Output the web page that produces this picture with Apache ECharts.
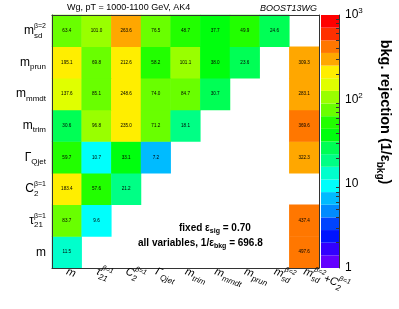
<!DOCTYPE html>
<html><head><meta charset="utf-8">
<script src="https://cdn.jsdelivr.net/npm/echarts@6/dist/echarts.min.js"></script>
<style>html,body{margin:0;padding:0;background:#fff}#c{width:399px;height:309px}</style>
</head><body><div id="c"></div>
<script>
// column variables (x) and row variables (y, bottom to top)
const xVars = ['m', 'tau21', 'C2', 'Gamma', 'mtrim', 'mmdt', 'mprun', 'msd', 'msdC2'];
const yVars = ['m', 'tau21', 'C2', 'Gamma', 'mtrim', 'mmdt', 'mprun', 'msd'];
// rows, values per column (null = empty cell)
const row_msd   = [63.4, 101.0, 263.6, 76.5, 48.7, 37.7, 49.9, 24.6, null];
const row_mprun = [195.1, 69.8, 212.6, 58.2, 101.1, 38.0, 23.6, null, 309.3];
const row_mmdt  = [137.6, 85.1, 248.6, 74.0, 84.7, 30.7, null, null, 283.1];
const row_mtrim = [30.6, 96.8, 235.0, 71.2, 18.1, null, null, null, 369.6];
const row_gamma = [59.7, 10.7, 33.1, 7.2, null, null, null, null, 322.3];
const row_c2    = [183.4, 57.6, 21.2, null, null, null, null, null, null];
const row_tau21 = [83.7, 9.6, null, null, null, null, null, null, 437.4];
const row_m     = [11.5, null, null, null, null, null, null, null, 497.6];
const rowsByVar = {m: row_m, tau21: row_tau21, C2: row_c2, Gamma: row_gamma,
  mtrim: row_mtrim, mmdt: row_mmdt, mprun: row_mprun, msd: row_msd};
// colour scale: log10 from 0 (=1) to 3 (=1000), 20 levels
const zLogMin = 0, zLogMax = 3;
const decadeLabels = ['1', '10', '10^2', '10^3'];
const minorTickValues = [2,3,4,5,6,7,8,9,20,30,40,50,60,70,80,90,200,300,400,500,600,700,800,900];
const paletteColors = ['#6300ff','#3300ff','#0014ff','#0044ff','#008bff','#00bbff','#00fffc','#00ffcc',
  '#00ff85','#00ff55','#00ff0e','#22ff00','#69ff00','#99ff00','#e0ff00','#ffee00','#ffa700','#ff7700','#ff3000','#ff0000'];

const FONT = '"Liberation Sans", Arial, sans-serif';
const nLev = paletteColors.length;
const step = (zLogMax - zLogMin) / nLev;

const data = [];
yVars.forEach((yv, yi) => {
  rowsByVar[yv].forEach((v, xi) => { if (v != null) data.push([xi, yi, v]); });
});

const pieces = paletteColors.map((c, k) => ({
  min: Math.pow(10, zLogMin + k * step), max: Math.pow(10, zLogMin + (k + 1) * step), color: c
}));

function richFor(italic, base) {
  const st = italic ? 'italic' : 'normal';
  return {
    b: {fontSize: base, fontFamily: FONT, fontStyle: st, color: '#000', align: 'left', lineHeight: 17},
    sw: {fontSize: 8, fontFamily: FONT, fontStyle: st, color: '#000', width: 0, align: 'left', verticalAlign: 'bottom', lineHeight: 8},
    s: {fontSize: 8, fontFamily: FONT, fontStyle: st, color: '#000', align: 'left', verticalAlign: 'bottom', lineHeight: 8},
    p: {fontSize: 7, fontFamily: FONT, fontStyle: st, color: '#000', align: 'left', verticalAlign: 'top', lineHeight: 7}
  };
}
const labelText = {
  m: '{b|m}',
  tau21: '{b|τ}{sw|21}{p|β=1}',
  C2: '{b|C}{sw|2}{p|β=1}',
  Gamma: '{b|Γ}{s|Qjet}',
  mtrim: '{b|m}{s|trim}',
  mmdt: '{b|m}{s|mmdt}',
  mprun: '{b|m}{s|prun}',
  msd: '{b|m}{sw|sd}{p|β=2}',
  msdC2: '{b|m}{sw|sd}{p|β=2}{b|+C}{sw|2}{p|β=1}'
};

const frame = {color: '#333', width: 1};
const series = [{
  type: 'heatmap', xAxisIndex: 0, yAxisIndex: 0, data: data,
  label: {show: true, fontSize: 4.6, fontFamily: FONT, color: '#000',
    formatter: p => p.value[2].toFixed(1)},
  emphasis: {disabled: true}, silent: true
}];
paletteColors.forEach(c => series.push({
  type: 'bar', xAxisIndex: 2, yAxisIndex: 2, stack: 'cb', data: [step],
  barWidth: '100%', itemStyle: {color: c}, silent: true
}));

const chart = echarts.init(document.getElementById('c'), null, {renderer: 'canvas'});
chart.setOption({
  animation: false,
  backgroundColor: '#fff',
  grid: [
    {left: 52, top: 15, width: 267, height: 253},
    {left: 321, top: 15, width: 18, height: 253}
  ],
  xAxis: [
    {type: 'category', gridIndex: 0, data: xVars, position: 'bottom', z: 10,
      axisLine: {lineStyle: frame}, axisTick: {inside: true, length: 5, lineStyle: frame},
      splitLine: {show: false},
      axisLabel: {interval: 0, rotate: -20, margin: 3, formatter: v => labelText[v], rich: richFor(true, 11)}},
    {type: 'category', gridIndex: 0, data: xVars, position: 'top', z: 10,
      axisLine: {lineStyle: frame}, axisTick: {inside: true, length: 5, lineStyle: frame},
      axisLabel: {show: false}, splitLine: {show: false}},
    {type: 'category', gridIndex: 1, data: ['cb'], show: false}
  ],
  yAxis: [
    {type: 'category', gridIndex: 0, data: yVars, position: 'left', z: 10,
      axisLine: {lineStyle: frame}, axisTick: {inside: true, length: 8, lineStyle: frame},
      splitLine: {show: false},
      axisLabel: {interval: 0, margin: 6, formatter: v => labelText[v], rich: richFor(false, 12)}},
    {type: 'category', gridIndex: 0, data: yVars, position: 'right', z: 10,
      axisLine: {lineStyle: frame}, axisTick: {inside: true, length: 8, lineStyle: frame},
      axisLabel: {show: false}, splitLine: {show: false}},
    {type: 'value', gridIndex: 1, min: zLogMin, max: zLogMax, interval: 1, position: 'right', z: 10,
      axisLine: {show: true, lineStyle: frame}, axisTick: {inside: true, length: 6, lineStyle: frame},
      splitLine: {show: false},
      axisLabel: {margin: 6, formatter: v => {
          const t = decadeLabels[Math.round(v)];
          const parts = t.split('^');
          return parts.length > 1 ? '{b|' + parts[0] + '}{p|' + parts[1] + '}' : '{b|' + t + '}';
        },
        rich: {
          b: {fontSize: 12, fontFamily: FONT, color: '#000', lineHeight: 16},
          p: {fontSize: 8, fontFamily: FONT, color: '#000', verticalAlign: 'top', lineHeight: 9}
        }}},
    {type: 'value', gridIndex: 1, min: zLogMin, max: zLogMax, position: 'right', z: 10,
      axisLine: {show: false}, splitLine: {show: false}, axisLabel: {show: false},
      axisTick: {show: true, inside: true, length: 3, lineStyle: frame,
        customValues: minorTickValues.map(v => Math.log10(v))}}
  ],
  visualMap: {
    type: 'piecewise', show: false, seriesIndex: 0, dimension: 2, pieces: pieces
  },
  series: series,
  graphic: [
    {type: 'text', x: 67, y: 8, silent: true,
      style: {text: 'Wg, pT = 1000-1100 GeV, AK4', fontSize: 9, fontFamily: FONT, fill: '#000',
        align: 'left', verticalAlign: 'middle'}},
    {type: 'text', x: 260, y: 8.5, silent: true,
      style: {text: 'BOOST13WG', fontSize: 9, fontStyle: 'italic', fontFamily: FONT, fill: '#000',
        align: 'left', verticalAlign: 'middle'}},
    {type: 'text', x: 385, y: 112, rotation: -Math.PI / 2, silent: true,
      style: {text: '{t|bkg. rejection (1/ε}{s|bkg}{t|)}', align: 'center', verticalAlign: 'middle',
        rich: {t: {fontSize: 14.5, fontWeight: 'bold', fontFamily: FONT, fill: '#000', lineHeight: 20},
               s: {fontSize: 10, fontWeight: 'bold', fontFamily: FONT, fill: '#000', verticalAlign: 'bottom', lineHeight: 12}}}},
    {type: 'text', x: 179, y: 228, silent: true,
      style: {text: '{t|fixed ε}{s|sig}{t| = 0.70}', align: 'left', verticalAlign: 'middle',
        rich: {t: {fontSize: 10, fontWeight: 'bold', fontFamily: FONT, fill: '#000', lineHeight: 14},
               s: {fontSize: 7, fontWeight: 'bold', fontFamily: FONT, fill: '#000', verticalAlign: 'bottom', lineHeight: 8}}}},
    {type: 'text', x: 138, y: 243, silent: true,
      style: {text: '{t|all variables, 1/ε}{s|bkg}{t| = 696.8}', align: 'left', verticalAlign: 'middle',
        rich: {t: {fontSize: 10, fontWeight: 'bold', fontFamily: FONT, fill: '#000', lineHeight: 14},
               s: {fontSize: 7, fontWeight: 'bold', fontFamily: FONT, fill: '#000', verticalAlign: 'bottom', lineHeight: 8}}}}
  ]
});
</script>
</body></html>
